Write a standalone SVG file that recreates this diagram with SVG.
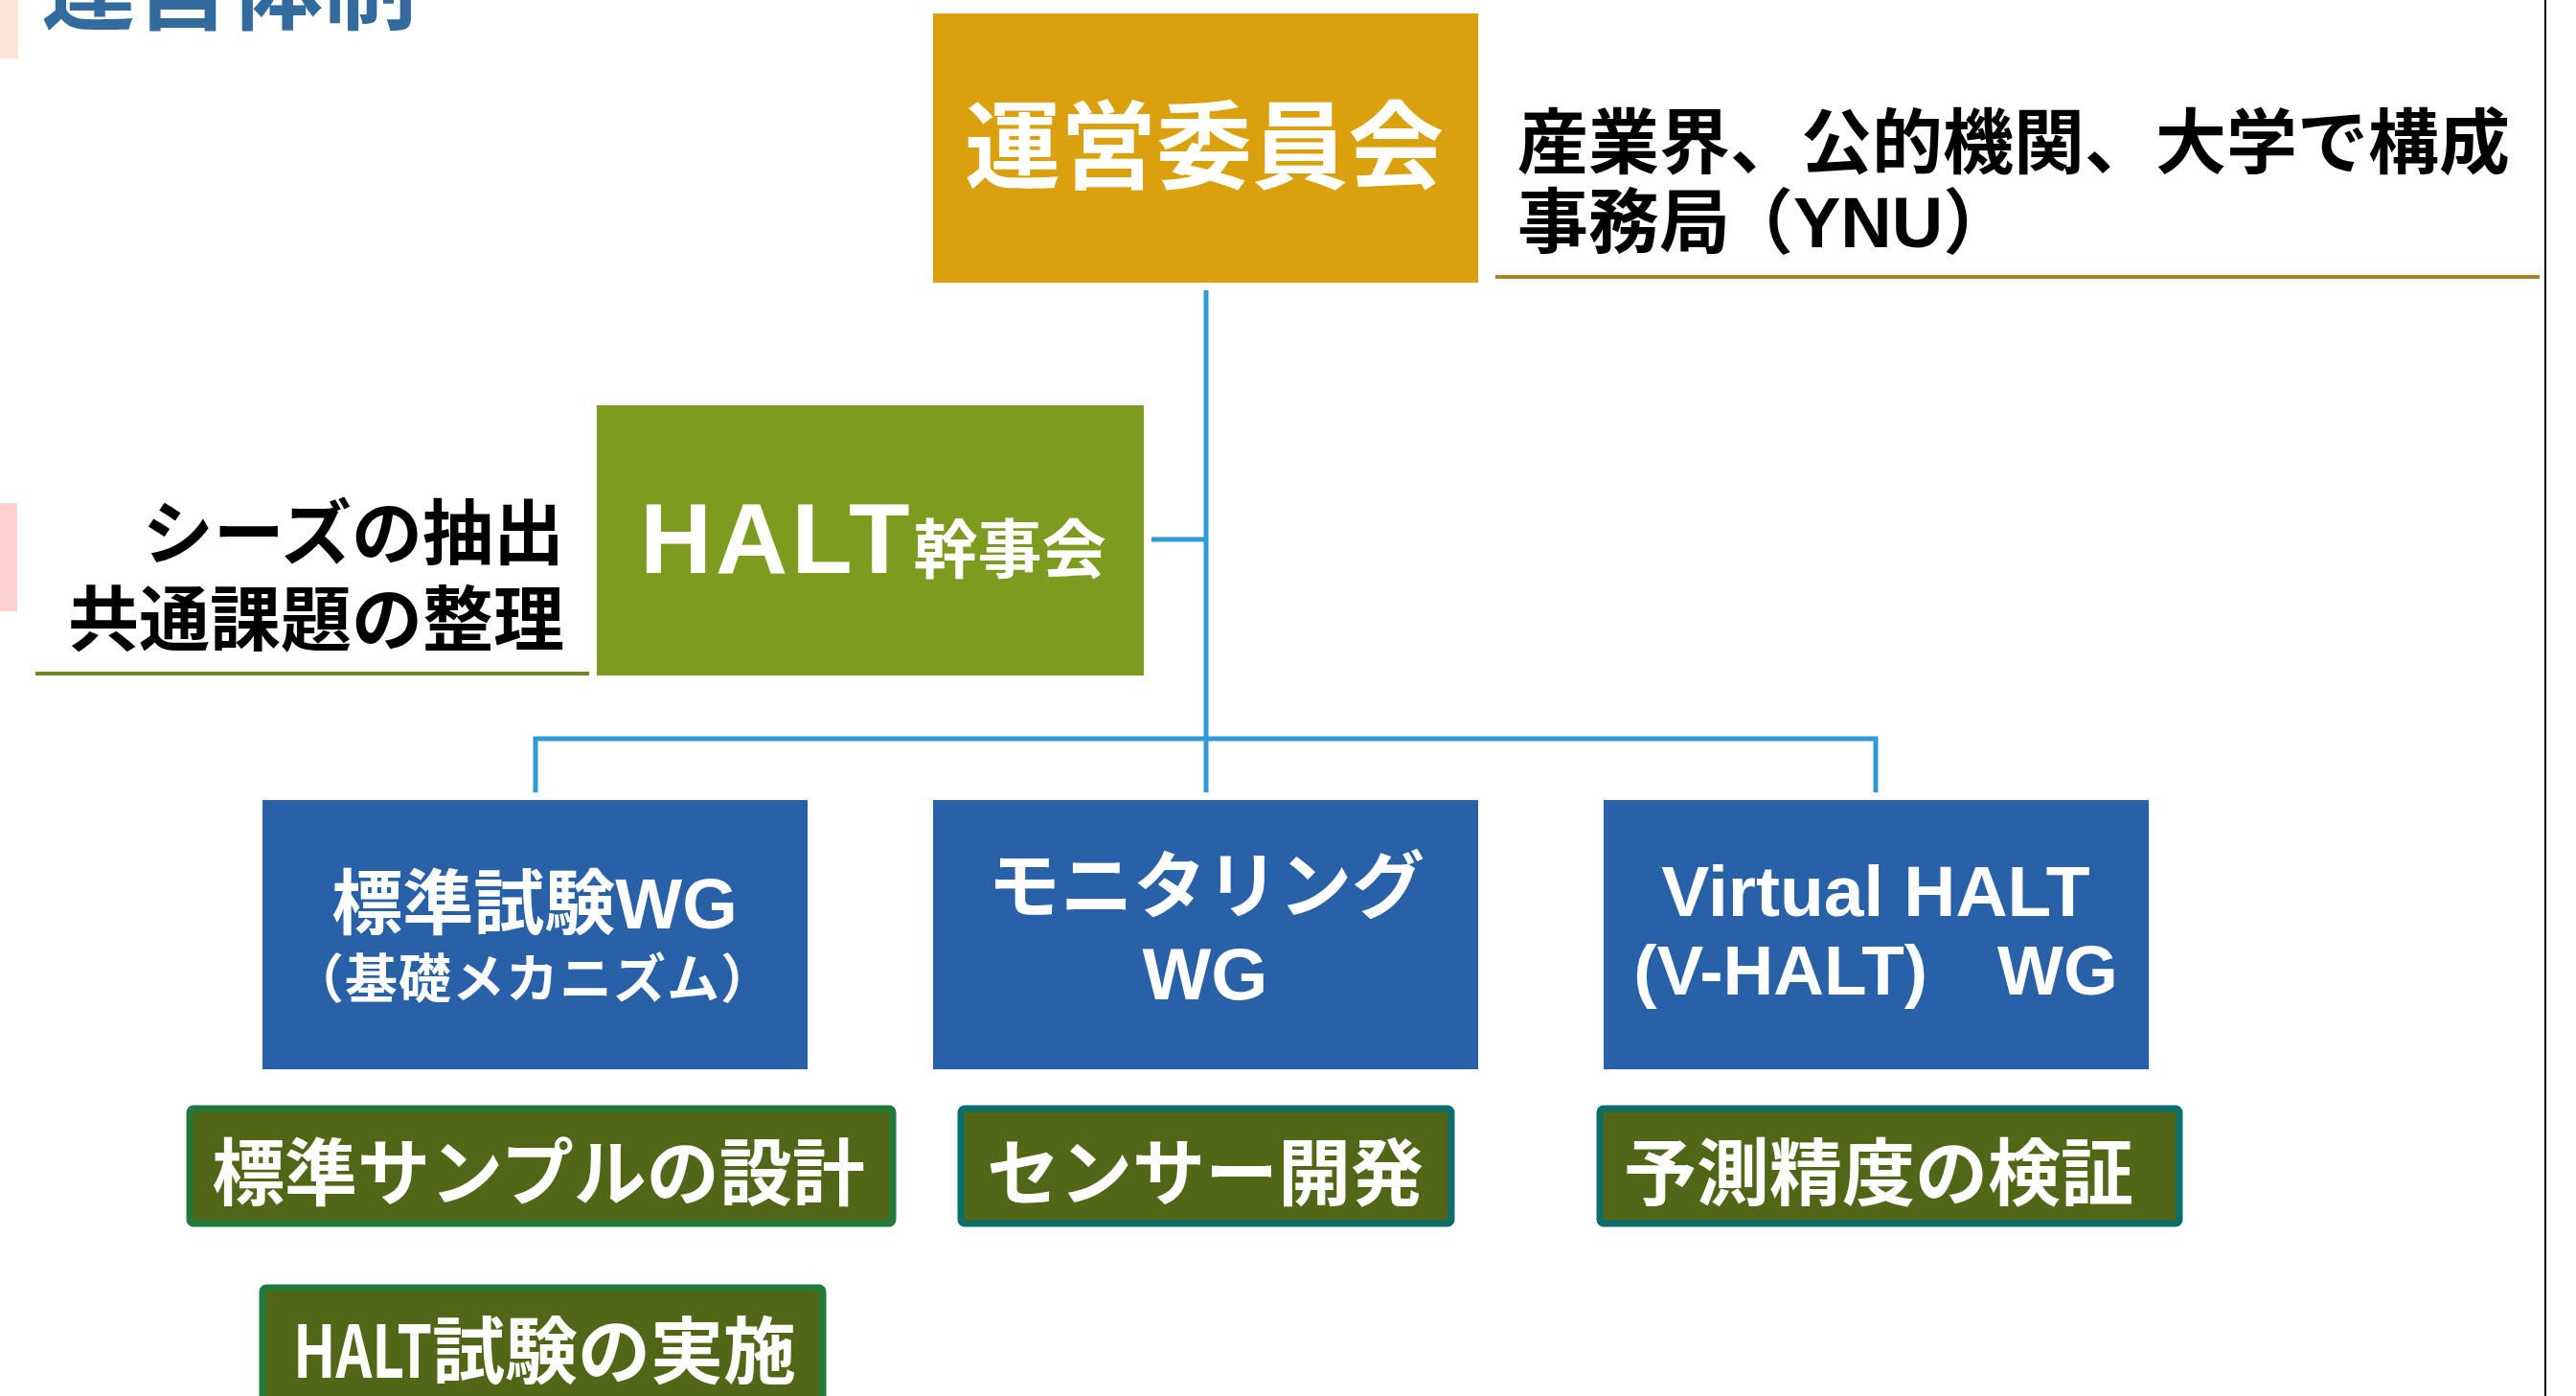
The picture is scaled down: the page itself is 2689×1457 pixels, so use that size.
<svg xmlns="http://www.w3.org/2000/svg" width="2689" height="1457" viewBox="0 0 2689 1457">
<style>
.jp{font-family:"Noto Sans CJK JP","Noto Sans CJK SC",sans-serif;font-weight:700}
.lat{font-family:"Liberation Sans","Noto Sans CJK JP",sans-serif;font-weight:700}
.w{fill:#FFFFFF}
.k{fill:#000000}
.blue{fill:#2861A8}
.sub{fill:#526618;stroke-width:7}
.conn{fill:none;stroke:#2F9AD5;stroke-width:5;stroke-linejoin:miter}
</style>
<rect x="0" y="0" width="2689" height="1457" fill="#FFFFFF"/>
<g id="decor">
<rect x="0" y="0" width="19" height="61" fill="#FCE4D6"/>
<rect x="0" y="525" width="18" height="113" fill="#FFD0D0"/>
<line x1="2657" y1="0" x2="2657" y2="1457" stroke="#000000" stroke-width="2"/>
</g>
<g id="title">
<text class="jp" x="43" y="23" font-size="98" fill="#336B9F">運営体制</text>
</g>
<g id="connectors">
<path class="conn" d="M1259,303 V827"/>
<path class="conn" d="M1202,563 H1259"/>
<path class="conn" d="M559,827 V771 H1958 V827"/>
</g>
<g id="steering">
<rect x="974" y="14" width="569" height="281" fill="#DAA00D"/>
<text class="jp w" x="1257" y="189" font-size="100" text-anchor="middle">運営委員会</text>
</g>
<g id="steering-note">
<text class="jp k" x="1584" y="175" font-size="74">産業界、公的機関、大学で構成</text>
<text class="jp k" x="1584" y="258" font-size="74">事務局<tspan dx="-8">（</tspan><tspan class="lat">YNU</tspan><tspan>）</tspan></text>
<line x1="1561" y1="289" x2="2651" y2="289" stroke="#A68424" stroke-width="4"/>
</g>
<g id="halt-kanji">
<rect x="623" y="423" width="571" height="282" fill="#7D9B1F"/>
<text class="lat w" x="668" y="598" font-size="104" letter-spacing="4">HALT<tspan class="jp" font-size="67" letter-spacing="0">幹事会</tspan></text>
</g>
<g id="halt-note">
<text class="jp k" x="589" y="583" font-size="74" text-anchor="end">シーズの抽出</text>
<text class="jp k" x="589" y="673" font-size="74" text-anchor="end">共通課題の整理</text>
<line x1="37" y1="703" x2="615" y2="703" stroke="#6B8A1E" stroke-width="4"/>
</g>
<g id="wg-standard">
<rect class="blue" x="274" y="835" width="569" height="281"/>
<text class="lat w" x="558" y="969" font-size="74" text-anchor="middle">標準試験WG</text>
<text class="jp w" x="556" y="1041" font-size="55" text-anchor="middle" letter-spacing="1">（基礎メカニズム）</text>
</g>
<g id="wg-monitoring">
<rect class="blue" x="974" y="835" width="569" height="281"/>
<text class="jp w" x="1259" y="952" font-size="76" text-anchor="middle">モニタリング</text>
<text class="lat w" x="1258" y="1043" font-size="76" text-anchor="middle">WG</text>
</g>
<g id="wg-vhalt">
<rect class="blue" x="1674" y="835" width="569" height="281"/>
<text class="lat w" x="1958" y="956" font-size="75" text-anchor="middle">Virtual HALT</text>
<text class="lat w" x="1958" y="1038" font-size="73" text-anchor="middle">(V-HALT)　WG</text>
</g>
<g id="task-sample">
<rect class="sub" x="198" y="1157" width="734" height="120" rx="4" stroke="#217A3C"/>
<text class="jp w" x="562" y="1252" font-size="76" text-anchor="middle">標準サンプルの設計</text>
</g>
<g id="task-halt">
<rect class="sub" x="274" y="1344" width="585" height="140" rx="4" stroke="#217A3C"/>
<text class="jp w" x="306" y="1438" font-size="76"><tspan textLength="145" lengthAdjust="spacingAndGlyphs">HALT</tspan>試験の実施</text>
</g>
<g id="task-sensor">
<rect class="sub" x="1003" y="1157" width="512" height="120" rx="4" stroke="#0B6E6A"/>
<text class="jp w" x="1258" y="1252" font-size="76" text-anchor="middle">センサー開発</text>
</g>
<g id="task-predict">
<rect class="sub" x="1670" y="1157" width="605" height="120" rx="4" stroke="#0B6E6A"/>
<text class="jp w" x="1961" y="1252" font-size="76" text-anchor="middle">予測精度の検証</text>
</g>
</svg>
